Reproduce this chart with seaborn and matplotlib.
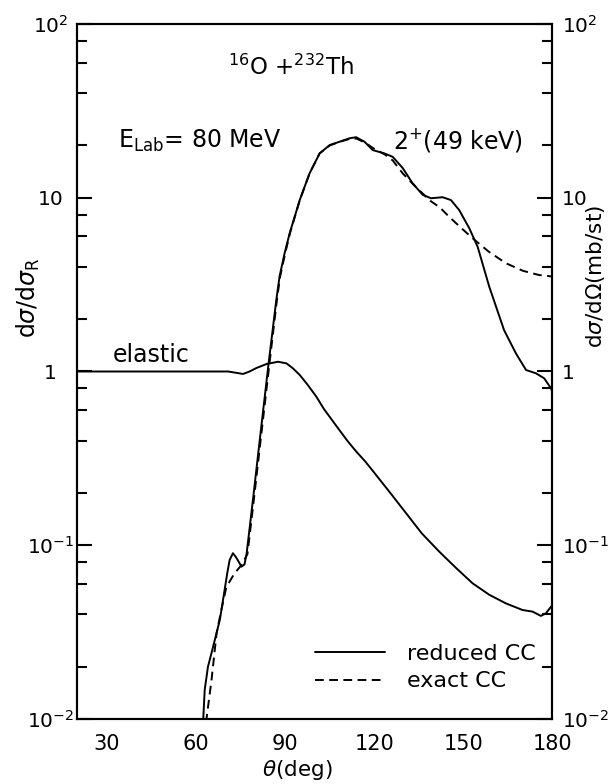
import numpy as np
import pandas as pd
import seaborn as sns
import matplotlib
matplotlib.use('Agg')
import matplotlib.pyplot as plt
from matplotlib.ticker import FixedLocator, FixedFormatter, NullFormatter

sns.set_style('ticks')
plt.rcParams['font.family'] = ['DejaVu Sans']
plt.rcParams['mathtext.fontset'] = 'dejavusans'
plt.rcParams['text.color'] = 'black'
plt.rcParams['axes.labelcolor'] = 'black'
plt.rcParams['xtick.color'] = 'black'
plt.rcParams['ytick.color'] = 'black'

# elastic cross section ratio (solid)
elastic_theta = [20, 30, 40, 50, 60, 68, 70.8, 73, 75.8, 78, 80.3, 83.7, 87.6, 90.4, 92.5,
                 94.9, 97.5, 100.5, 103, 106, 108.3, 111, 114, 117, 119.5, 125, 130.7, 136, 141.9,
                 147.5, 153.1, 158.7, 164.3, 169.9, 173.3, 176.1, 177.8, 179.5, 180]
elastic_ratio = [1.0, 1.0, 1.0, 1.0, 1.0, 1.0, 1.0, 0.986, 0.968, 1.0, 1.047, 1.104, 1.138, 1.114, 1.047,
                 0.955, 0.841, 0.716, 0.610, 0.519, 0.459, 0.398, 0.345, 0.303, 0.268, 0.204, 0.153,
                 0.117, 0.0918, 0.0741, 0.0604, 0.0519, 0.0463, 0.0424, 0.0415, 0.0392, 0.0406,
                 0.0443, 0.0452]

# 2+ (49 keV), reduced CC (solid)
reduced_theta = [62.0, 62.4, 62.9, 64.0, 65.2, 66.3, 68.0, 69.6, 70.5, 71.3, 72.4, 73.5, 75.3, 76.3,
                 77.0, 79.2, 81.4, 84.3, 87.0, 88.1, 89.8, 91.5, 94.9, 98.2, 101.6, 105.0, 108.3,
                 111.7, 113.9, 116.7, 119.5, 123.4, 126.2, 129.6, 132.9, 136.3, 139.1, 143.0, 145.8,
                 148.6, 152.0, 154.8, 158.7, 163.7, 167.7, 171.1, 174.4, 177.2, 179.5, 180]
reduced_cs = [0.0079, 0.0099, 0.0147, 0.020, 0.024, 0.0285, 0.0372, 0.0552, 0.0692, 0.0822, 0.090,
              0.0851, 0.0753, 0.0776, 0.0891, 0.186, 0.398, 1.072, 2.57, 3.52, 4.79, 6.24, 9.70, 13.8,
              18.0, 20.1, 21.0, 22.0, 22.3, 21.0, 18.8, 18.0, 17.2, 14.8, 12.1, 10.4, 9.93, 10.07,
              9.70, 8.49, 6.67, 5.22, 3.08, 1.73, 1.27, 1.02, 0.977, 0.914, 0.80, 0.76]

# 2+ (49 keV), exact CC (dashed)
exact_theta = [63.0, 63.5, 65.2, 66.9, 68.5, 70.2, 73.0, 75.3, 77.3, 79.5, 81.7, 84.6, 87.2, 88.3,
               90.0, 91.6, 94.9, 98.2, 101.6, 105.0, 108.3, 111.7, 114.0, 117.0, 120.0, 123.4, 126.2,
               129.6, 133.0, 136.0, 138.5, 142.0, 145.2, 149.0, 153.1, 158.5, 164.3, 170.0, 175.5, 180.0]
exact_cs = [0.0079, 0.010, 0.0168, 0.0311, 0.0424, 0.0575, 0.0692, 0.0769, 0.0891, 0.186, 0.398,
            1.072, 2.57, 3.52, 4.79, 6.24, 9.66, 13.8, 18.0, 20.0, 21.0, 21.8, 21.9, 20.7, 19.1,
            17.8, 16.4, 13.8, 12.0, 10.7, 9.70, 8.81, 7.78, 6.76, 5.85, 4.90, 4.20, 3.80, 3.59, 3.52]

x_ticks = [30, 60, 90, 120, 150, 180]
y_ticks = [1e-2, 1e-1, 1, 10, 100]
y_labels = [r'$10^{-2}$', r'$10^{-1}$', '1', '10', r'$10^{2}$']
y_minor = [m * d for d in (1e-2, 1e-1, 1, 10) for m in (2, 4, 6, 8)]

fig = plt.figure(figsize=(6.09, 7.84), dpi=100)
ax = fig.add_axes([0.1269, 0.0829, 0.7803, 0.8865])

lw = 1.4
sns.lineplot(x=elastic_theta, y=elastic_ratio, ax=ax, color='black', lw=lw,
             estimator=None, sort=False)
sns.lineplot(x=reduced_theta, y=reduced_cs, ax=ax, color='black', lw=lw,
             estimator=None, sort=False)
sns.lineplot(x=exact_theta, y=exact_cs, ax=ax, color='black', lw=lw,
             estimator=None, sort=False)
l_el, l_red, l_ex = ax.lines[:3]
l_ex.set_linestyle((0, (4.5, 2.8)))

ax.set_yscale('log')
ax.set_xlim(20, 180)
ax.set_ylim(1e-2, 1e2)
ax.yaxis.set_major_locator(FixedLocator(y_ticks))
ax.yaxis.set_major_formatter(FixedFormatter(y_labels))
ax.yaxis.set_minor_locator(FixedLocator(y_minor))
ax.yaxis.set_minor_formatter(NullFormatter())
ax.set_xticks(x_ticks)
ax.set_xticklabels([str(t) for t in x_ticks])

for s in ax.spines.values():
    s.set_linewidth(1.5)
    s.set_color('black')

tick_fs = 14.5
ax.tick_params(axis='y', which='major', direction='in', length=11, width=1.5,
               left=True, right=False, labelsize=tick_fs, pad=19.5)
ax.tick_params(axis='y', which='minor', direction='in', length=7, width=1.5,
               left=True, right=False)
ax.tick_params(axis='x', which='both', length=0, labelsize=tick_fs + 0.5, pad=11)
for t in ax.get_yticklabels():
    t.set_ha('center')

ax2 = ax.twinx()
ax2.set_yscale('log')
ax2.set_ylim(1e-2, 1e2)
ax2.yaxis.set_major_locator(FixedLocator(y_ticks))
ax2.yaxis.set_major_formatter(FixedFormatter(y_labels))
ax2.yaxis.set_minor_locator(FixedLocator(y_minor))
ax2.yaxis.set_minor_formatter(NullFormatter())
ax2.tick_params(axis='y', which='major', direction='in', length=11, width=1.5,
                right=True, left=False, labelsize=tick_fs, pad=7)
ax2.tick_params(axis='y', which='minor', direction='in', length=7, width=1.5,
                right=True, left=False)
for s in ax2.spines.values():
    s.set_linewidth(1.5)
    s.set_color('black')

ax.set_xlabel(r'$\theta$(deg)', fontsize=15.5, va='top')
ax.xaxis.set_label_coords(0.464, -0.0565)
ax.set_ylabel(r'd$\sigma$/d$\sigma_{\rm R}$', fontsize=17)
ax.yaxis.set_label_coords(-0.074, 0.607)
ax2.set_ylabel(r'd$\sigma$/d$\Omega$(mb/st)', fontsize=15.5)
ax2.yaxis.set_label_coords(1.066, 0.636)

ax.text(70.7, 50.8, r'$^{16}$O +$^{232}$Th', fontsize=16.5, ha='left', va='baseline')
ax.text(33.7, 19.3, r'E$_{\rm Lab}$= 80 MeV', fontsize=17, ha='left', va='baseline')
ax.text(126.2, 19.3, r'2$^{+}$(49 keV)', fontsize=17, ha='left', va='baseline')
ax.text(31.8, 1.14, 'elastic', fontsize=17, ha='left', va='baseline')

ax.legend([l_red, l_ex], ['reduced CC', 'exact CC'], loc='center left',
          bbox_to_anchor=(0.500, 0.0741), frameon=False, fontsize=16,
          handlelength=3.15, handletextpad=1.0, labelspacing=0.35,
          borderpad=0, borderaxespad=0)

fig.savefig('out.png', dpi=100, facecolor='white')
